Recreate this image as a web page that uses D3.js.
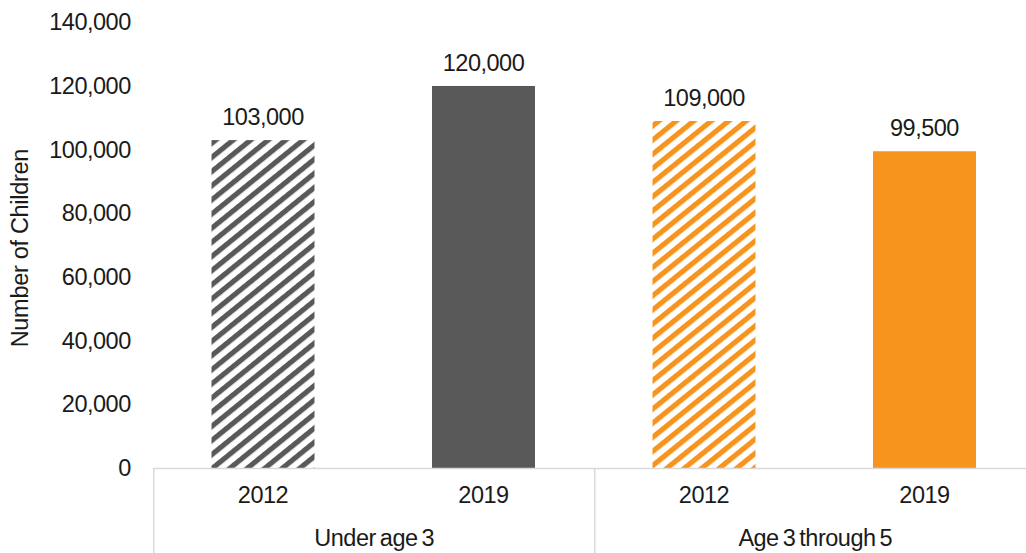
<!DOCTYPE html>
<html>
<head>
<meta charset="utf-8">
<script src="https://cdn.jsdelivr.net/npm/d3@7"></script>
<style>
  html, body { margin: 0; padding: 0; background: #fff; }
  svg { display: block; }
  text { font-family: "Liberation Sans", Arial, sans-serif; fill: #1a1a1a; }
</style>
</head>
<body>
<svg id="chart" width="1026" height="553"></svg>
<script>
const groups = ["Under age 3", "Age 3 through 5"];
const years = ["2012", "2019", "2012", "2019"];
const groupOf = [0, 0, 1, 1];
const values = [103000, 120000, 109000, 99500];
const valueLabels = ["103,000", "120,000", "109,000", "99,500"];
const hatched = [true, false, true, false];
const yTicks = [0, 20000, 40000, 60000, 80000, 100000, 120000, 140000];

const colors = ["#595959", "#F7941D"];

const svg = d3.select("#chart");
const W = 1026, H = 553;
const plotLeft = 152.75, plotRight = 1034.75, plotTop = 22.3, plotBottom = 468;
const FS = 23.5;

const keys = values.map((v, i) => i);
const x = d3.scaleBand().domain(keys).range([plotLeft, plotRight])
  .paddingInner(0.533).paddingOuter(0.2665);
const xStep = d3.scaleBand().domain(keys).range([plotLeft, plotRight]).padding(0);
const y = d3.scaleLinear().domain([0, 140000]).range([plotBottom, plotTop]);

// patterns
const defs = svg.append("defs");
colors.forEach((c, gi) => {
  const p = defs.append("pattern")
    .attr("id", "hatch" + gi)
    .attr("patternUnits", "userSpaceOnUse")
    .attr("width", 11).attr("height", 11)
    .attr("patternTransform", "rotate(-39)");
  p.append("rect").attr("width", 11).attr("height", 11).attr("fill", "#fff");
  p.append("rect").attr("width", 11).attr("height", 5.2).attr("fill", c);
});

// y axis labels
const yAxis = d3.axisLeft(y).tickValues(yTicks).tickSize(0).tickPadding(23)
  .tickFormat(d3.format(","));
const ya = svg.append("g").attr("transform", `translate(${plotLeft + 1},0)`).call(yAxis);
ya.select(".domain").remove();
ya.selectAll("text").attr("font-size", FS).attr("font-family", "Liberation Sans, Arial, sans-serif")
  .attr("fill", "#1a1a1a").style("letter-spacing", "-0.5px");

// y axis title
svg.append("text")
  .attr("transform", `translate(28,${(plotTop + plotBottom) / 2 + 3}) rotate(-90)`)
  .attr("text-anchor", "middle")
  .attr("font-size", FS)
  .style("letter-spacing", "-0.3px")
  .text("Number of Children");

// bars
svg.append("g").selectAll("rect").data(keys).join("rect")
  .attr("x", i => x(i))
  .attr("width", x.bandwidth())
  .attr("y", i => y(values[i]))
  .attr("height", i => y(0) - y(values[i]))
  .attr("fill", i => hatched[i] ? `url(#hatch${groupOf[i]})` : colors[groupOf[i]]);

// value labels
svg.append("g").selectAll("text").data(keys).join("text")
  .attr("x", i => x(i) + x.bandwidth() / 2)
  .attr("y", i => y(values[i]) - 15)
  .attr("text-anchor", "middle")
  .attr("font-size", FS)
  .style("letter-spacing", "-0.5px")
  .text(i => valueLabels[i]);

// x axis line
const lineColor = "#d9d9d9";
svg.append("line")
  .attr("x1", plotLeft + 1).attr("x2", W)
  .attr("y1", plotBottom + 0.5).attr("y2", plotBottom + 0.5)
  .attr("stroke", lineColor).attr("stroke-width", 1.5);

// group separators
const groupBounds = [plotLeft, xStep(2), plotRight];
svg.append("g").selectAll("line").data(groupBounds).join("line")
  .attr("x1", d => d + 1).attr("x2", d => d + 1)
  .attr("y1", plotBottom).attr("y2", H)
  .attr("stroke", lineColor).attr("stroke-width", 1.5);

// year labels
svg.append("g").selectAll("text").data(keys).join("text")
  .attr("x", i => xStep(i) + xStep.bandwidth() / 2)
  .attr("y", 503)
  .attr("text-anchor", "middle")
  .attr("font-size", FS)
  .style("letter-spacing", "-0.5px")
  .text(i => years[i]);

// group labels
svg.append("g").selectAll("text").data(groups).join("text")
  .attr("x", (g, gi) => (groupBounds[gi] + groupBounds[gi + 1]) / 2 + 1)
  .attr("y", 546)
  .attr("text-anchor", "middle")
  .attr("font-size", FS)
  .style("letter-spacing", "-0.5px")
  .style("word-spacing", "-2px")
  .text(g => g);
</script>
</body>
</html>
